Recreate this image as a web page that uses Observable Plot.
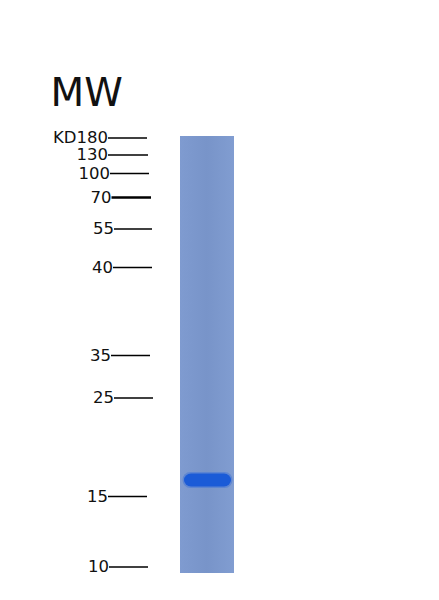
<!DOCTYPE html>
<html><head><meta charset="utf-8">
<script src="https://cdn.jsdelivr.net/npm/d3@7"></script>
<script src="https://cdn.jsdelivr.net/npm/@observablehq/plot@0.6"></script>
<style>
html,body{margin:0;padding:0;background:#fff;}
svg{display:block;font-family:"DejaVu Sans",sans-serif;}
</style></head>
<body><div id="chart"></div>
<script>
// Marker ladder (kDa) and their migration positions in the gel image (px from top)
const markerLabels = ["KD180","130","100","70","55","40","35","25","15","10"];
const markerPos    = [137.5, 154.5, 173, 197, 228.5, 267, 355, 397.5, 496, 566.5];
const tickStart    = [108, 108, 110, 111.5, 114, 113, 111, 114, 108, 109];
const tickEnd      = [147, 148, 149, 151, 152, 152, 150, 153, 147, 148];
const markerBold   = [false,false,false,true,false,false,false,false,false,false];

// Sample lane extents and the protein band
const lane = [{x1: 180, x2: 234, y1: 136, y2: 573}];
const bandCenter = [480];
const bandLeft = [184];
const bandRight = [231];
const bandHeight = [13];

const title = "MW";

const markers = markerLabels.map((label, i) => ({
  label, y: markerPos[i], x1: tickStart[i], x2: tickEnd[i], bold: markerBold[i]
}));
const bands = bandCenter.map((c, i) => ({
  x1: bandLeft[i], x2: bandRight[i], y1: c - bandHeight[i] / 2, y2: c + bandHeight[i] / 2
}));

const chart = Plot.plot({
  width: 439, height: 600,
  marginTop: 0, marginRight: 0, marginBottom: 0, marginLeft: 0,
  x: {domain: [0, 439], range: [0, 439], axis: null},
  y: {domain: [0, 600], range: [0, 600], axis: null},
  style: {background: "#ffffff", fontFamily: "DejaVu Sans, sans-serif"},
  marks: [
    Plot.rect(lane, {x1: "x1", x2: "x2", y1: "y1", y2: "y2", fill: "url(#laneGrad)"}),
    Plot.rect(bands, {x1: d => d.x1 - 1.5, x2: d => d.x2 + 1.5, y1: d => d.y1 - 1.5, y2: d => d.y2 + 1.5, fill: "#4a7ad6", rx: 8, fillOpacity: 0.6}),
    Plot.rect(bands, {x1: "x1", x2: "x2", y1: "y1", y2: "y2", fill: "#1b5bd7", rx: 7}),
    Plot.ruleY(markers, {y: "y", x1: "x1", x2: "x2", stroke: "#000", strokeWidth: d => d.bold ? 2.4 : 1.5}),
    Plot.text(markers, {x: d => d.x1 - 0.5, y: "y", text: "label", textAnchor: "end", lineAnchor: "middle",
      fontSize: 16.5, fill: "#111", fontWeight: d => d.bold ? "bold" : "normal"}),
    Plot.text([title], {x: [50], y: [93], text: d => d, textAnchor: "start", lineAnchor: "middle", fontSize: 39, fill: "#111"})
  ]
});

// gradient definition for the lane texture
const ns = "http://www.w3.org/2000/svg";
const defs = document.createElementNS(ns, "defs");
defs.innerHTML = `<linearGradient id="laneGrad" x1="0" x2="1" y1="0" y2="0">
  <stop offset="0" stop-color="#7f9bd0"/>
  <stop offset="0.5" stop-color="#7894c9"/>
  <stop offset="1" stop-color="#819dd1"/>
</linearGradient>`;
chart.insertBefore(defs, chart.firstChild);
document.getElementById("chart").appendChild(chart);
</script>
</body></html>
